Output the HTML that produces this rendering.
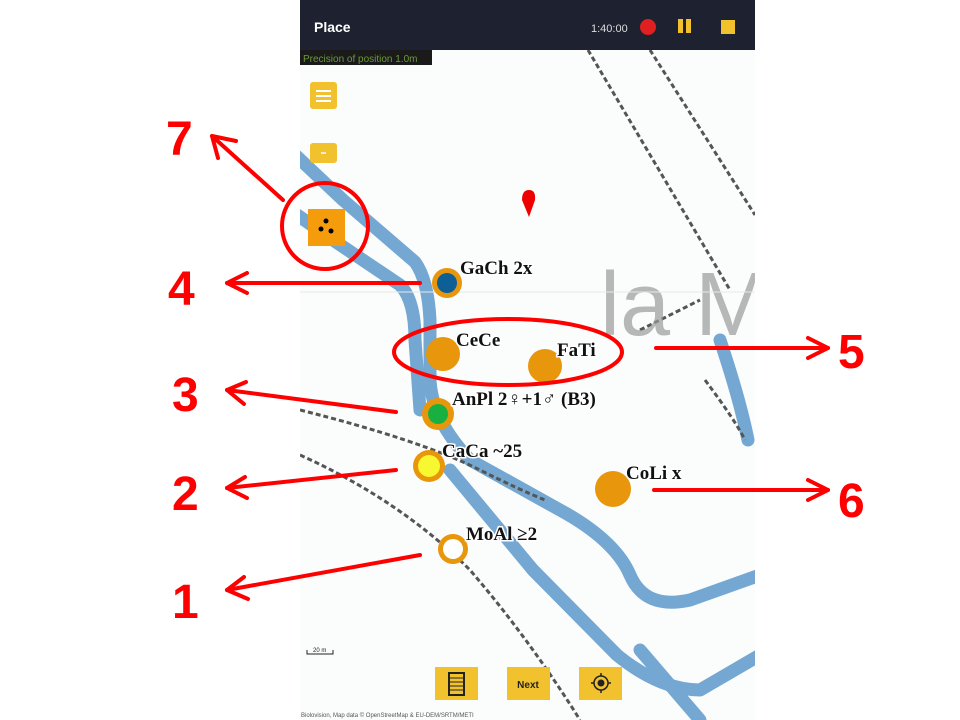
<!DOCTYPE html>
<html><head><meta charset="utf-8"><style>
html,body{margin:0;padding:0;background:#fff;}
svg{display:block}
</style></head><body>
<svg width="960" height="720" viewBox="0 0 960 720" xmlns="http://www.w3.org/2000/svg">
<defs><clipPath id="ph"><rect x="300" y="0" width="455" height="720"/></clipPath></defs>
<g clip-path="url(#ph)">
<rect x="300" y="0" width="455" height="720" fill="#fbfcfc"/>
<!-- river -->
<g fill="none" stroke="#74a8d2" stroke-width="13" stroke-linejoin="round" stroke-linecap="round">
<path d="M290,150 L343,200 L415,262 Q428,280 430,320 L430,380 Q432,420 470,460 L560,510 Q615,540 630,575 Q645,610 690,600 L760,575"/>
<path d="M290,210 L333,240 L400,285 Q415,300 415,340 L420,410"/>
<path d="M450,470 L533,570 L617,655 Q660,690 700,690 L760,655"/>
<path d="M720,340 Q740,400 748,440"/>
<path d="M640,650 L700,720"/>
</g>
<!-- dashed roads -->
<g fill="none" stroke="#555" stroke-width="3" stroke-dasharray="5,3">
<path d="M588,50 L730,290"/>
<path d="M650,50 L755,215"/>
<path d="M300,410 Q420,440 480,470 Q520,490 545,500"/>
<path d="M300,455 Q400,500 470,570 Q530,640 580,720"/>
<path d="M640,330 L700,300"/>
<path d="M705,380 Q735,420 745,440"/>
</g>
<text x="600" y="335" font-family="Liberation Sans,sans-serif" font-size="90" fill="#9a9a9a" opacity="0.7">la M</text>
<!-- top bar -->
<rect x="300" y="0" width="455" height="50" fill="#1e2230"/>
<text x="314" y="32" font-family="Liberation Sans,sans-serif" font-size="14" font-weight="bold" fill="#fff">Place</text>
<text x="591" y="32" font-family="Liberation Sans,sans-serif" font-size="11" fill="#ddd">1:40:00</text>
<circle cx="648" cy="27" r="8" fill="#e02020"/>
<rect x="678" y="19" width="5" height="14" fill="#f2c12e"/><rect x="686" y="19" width="5" height="14" fill="#f2c12e"/>
<rect x="721" y="20" width="14" height="14" fill="#f2c12e"/>
<rect x="300" y="50" width="132" height="15" fill="#1a1a1a"/>
<text x="303" y="62" font-family="Liberation Sans,sans-serif" font-size="10" fill="#6a9a3a">Precision of position 1.0m</text>
<!-- buttons -->
<rect x="310" y="82" width="27" height="27" rx="3" fill="#f2c12e"/>
<g stroke="#fff" stroke-width="2"><line x1="316" y1="91" x2="331" y2="91"/><line x1="316" y1="96" x2="331" y2="96"/><line x1="316" y1="101" x2="331" y2="101"/></g>
<rect x="310" y="143" width="27" height="20" rx="3" fill="#f2c12e"/>
<line x1="321" y1="153" x2="326" y2="153" stroke="#fff" stroke-width="1.5"/>
<rect x="308" y="209" width="37" height="37" fill="#f59c0c"/>
<circle cx="326" cy="221" r="2.5" fill="#000"/><circle cx="321" cy="229" r="2.5" fill="#000"/><circle cx="331" cy="231" r="2.5" fill="#000"/>
<path d="M522,200 Q522,190 529,190 Q536,190 535,200 L529,217 Z" fill="#e00"/>
<line x1="300" y1="292" x2="755" y2="292" stroke="#e8e8e8" stroke-width="1"/>
<!-- markers -->
<g font-family="Liberation Serif,serif" font-size="19" font-weight="bold" fill="#111" stroke="#fff" stroke-width="3" paint-order="stroke">
<circle cx="447" cy="283" r="15" fill="#e8960c" stroke="none"/><circle cx="447" cy="283" r="10" fill="#0d5f96" stroke="none"/>
<text x="460" y="274">GaCh 2x</text>
<circle cx="443" cy="354" r="17" fill="#e8960c" stroke="none"/>
<text x="456" y="346">CeCe</text>
<circle cx="545" cy="366" r="17" fill="#e8960c" stroke="none"/>
<text x="557" y="356">FaTi</text>
<circle cx="438" cy="414" r="16" fill="#e8960c" stroke="none"/><circle cx="438" cy="414" r="10" fill="#18b040" stroke="none"/>
<text x="452" y="405">AnPl 2♀+1♂ (B3)</text>
<circle cx="429" cy="466" r="16" fill="#e8960c" stroke="none"/><circle cx="429" cy="466" r="11" fill="#f8f830" stroke="none"/>
<text x="442" y="457">CaCa ~25</text>
<circle cx="613" cy="489" r="18" fill="#e8960c" stroke="none"/>
<text x="626" y="479">CoLi x</text>
<circle cx="453" cy="549" r="15" fill="#e8960c" stroke="none"/><circle cx="453" cy="549" r="10" fill="#fff" stroke="none"/>
<text x="466" y="540">MoAl ≥2</text>
</g>
<!-- scale -->
<path d="M307,650 V654 H333 V650" fill="none" stroke="#222" stroke-width="1"/>
<text x="313" y="652" font-family="Liberation Sans,sans-serif" font-size="6" fill="#222">20 m</text>
<!-- bottom buttons -->
<rect x="435" y="667" width="43" height="33" fill="#f2c12e"/>
<rect x="449" y="673" width="15" height="22" fill="none" stroke="#222" stroke-width="2"/>
<g stroke="#222" stroke-width="1"><line x1="450" y1="678" x2="463" y2="678"/><line x1="450" y1="682" x2="463" y2="682"/><line x1="450" y1="686" x2="463" y2="686"/><line x1="450" y1="690" x2="463" y2="690"/></g>
<rect x="507" y="667" width="43" height="33" fill="#f2c12e"/>
<text x="528" y="688" text-anchor="middle" font-family="Liberation Sans,sans-serif" font-size="10" font-weight="bold" fill="#222">Next</text>
<rect x="579" y="667" width="43" height="33" fill="#f2c12e"/>
<circle cx="601" cy="683" r="7" fill="none" stroke="#222" stroke-width="1.5"/><circle cx="601" cy="683" r="3.5" fill="#222"/>
<g stroke="#222" stroke-width="1.5"><line x1="601" y1="673" x2="601" y2="676"/><line x1="601" y1="690" x2="601" y2="693"/><line x1="591" y1="683" x2="594" y2="683"/><line x1="608" y1="683" x2="611" y2="683"/></g>
<text x="301" y="717" font-family="Liberation Sans,sans-serif" font-size="6" fill="#555">Biolovision, Map data © OpenStreetMap &amp; EU-DEM/SRTM/METI</text>
</g>
<!-- annotations -->
<g fill="none" stroke="#f00" stroke-width="4" stroke-linecap="round" stroke-linejoin="round">
<circle cx="325" cy="226" r="43"/>
<ellipse cx="508" cy="352" rx="114" ry="33"/>
<line x1="283" y1="200" x2="212" y2="136"/><path d="M218,158 L212,136 L236,141"/>
<line x1="420" y1="283" x2="227" y2="283"/><path d="M247,273 L227,283 L247,293"/>
<line x1="396" y1="412" x2="227" y2="390"/><path d="M246,382 L227,390 L244,404"/>
<line x1="396" y1="470" x2="227" y2="488"/><path d="M245,477 L227,488 L247,498"/>
<line x1="420" y1="555" x2="227" y2="590"/><path d="M244,577 L227,590 L248,599"/>
<line x1="656" y1="348" x2="828" y2="348"/><path d="M808,338 L828,348 L808,358"/>
<line x1="654" y1="490" x2="828" y2="490"/><path d="M808,480 L828,490 L808,500"/>
</g>
<g font-family="Liberation Sans,sans-serif" font-size="48" font-weight="bold" fill="#f00">
<text x="166" y="155">7</text>
<text x="168" y="305">4</text>
<text x="172" y="411">3</text>
<text x="172" y="510">2</text>
<text x="172" y="618">1</text>
<text x="838" y="368">5</text>
<text x="838" y="517">6</text>
</g>
</svg>
</body></html>
